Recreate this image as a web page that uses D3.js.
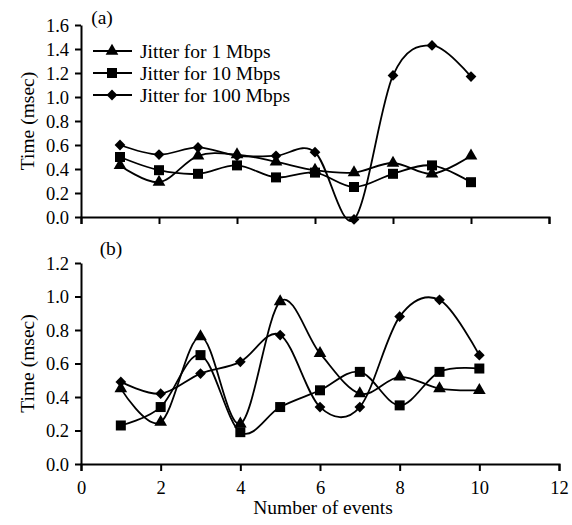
<!DOCTYPE html>
<html>
<head>
<meta charset="utf-8">
<script src="https://cdn.jsdelivr.net/npm/d3@7"></script>
<style>
  body { margin: 0; background: #fff; }
  svg { display: block; font-family: "Liberation Serif", "DejaVu Serif", serif; }
</style>
</head>
<body>
<svg id="viz" width="572" height="525"></svg>
<script>
// data
const events = [1, 2, 3, 4, 5, 6, 7, 8, 9, 10];
const seriesNames = ["Jitter for 1 Mbps", "Jitter for 10 Mbps", "Jitter for 100 Mbps"];

// panel (a)
const a1Mbps = [0.43, 0.29, 0.51, 0.52, 0.46, 0.39, 0.37, 0.45, 0.36, 0.51];
const a10Mbps = [0.50, 0.39, 0.36, 0.43, 0.33, 0.37, 0.25, 0.36, 0.43, 0.29];
const a100Mbps = [0.60, 0.52, 0.58, 0.51, 0.51, 0.54, -0.02, 1.18, 1.43, 1.17];

// panel (b)
const b1Mbps = [0.45, 0.25, 0.76, 0.24, 0.97, 0.66, 0.42, 0.52, 0.45, 0.44];
const b10Mbps = [0.23, 0.34, 0.65, 0.19, 0.34, 0.44, 0.55, 0.35, 0.55, 0.57];
const b100Mbps = [0.49, 0.42, 0.54, 0.61, 0.77, 0.34, 0.34, 0.88, 0.98, 0.65];

const xTicks = [0, 2, 4, 6, 8, 10, 12];
const yTicksA = [0, 0.2, 0.4, 0.6, 0.8, 1.0, 1.2, 1.4, 1.6];
const yTicksB = [0, 0.2, 0.4, 0.6, 0.8, 1.0, 1.2];

const svg = d3.select("#viz");
const FONT = 19.5;
const TICK_FONT = 18.5;

// triangle, square, diamond (square turned 45deg, like excel's)
const symbols = [d3.symbolTriangle, d3.symbolSquare, d3.symbolSquare];
const symbolSizes = [70, 100, 58];
const symbolRot = [0, 0, 45];

const drawPanel = (cfg) => {
    const x = d3.scaleLinear().domain([0, 12]).range([cfg.left, cfg.right]);
    const y = d3.scaleLinear().domain([0, cfg.yMax]).range([cfg.bottom, cfg.top]);

    const g = svg.append("g");

    // axes
    const xAxis = g.append("g")
        .attr("transform", `translate(0,${cfg.bottom})`)
        .call(d3.axisBottom(x).tickValues(xTicks).tickSize(7).tickSizeOuter(7)
            .tickFormat(cfg.xLabels ? d3.format("d") : ""));
    const yAxis = g.append("g")
        .attr("transform", `translate(${cfg.left},0)`)
        .call(d3.axisLeft(y).tickValues(cfg.yTicks).tickSize(6).tickSizeOuter(0)
            .tickFormat(d3.format(".1f")));

    [xAxis, yAxis].forEach(ax => {
        ax.select(".domain").attr("stroke", "#000").attr("stroke-width", 2);
        ax.selectAll(".tick line").attr("stroke", "#000").attr("stroke-width", 2);
        ax.selectAll("text").attr("fill", "#000").attr("font-size", TICK_FONT)
            .attr("font-family", "Liberation Serif");
    });
    xAxis.selectAll("text").attr("dy", "1.1em");
    yAxis.selectAll("text").attr("x", -12).attr("dy", "0.35em");

    // y axis title
    g.append("text")
        .attr("transform", `translate(27,${(cfg.top + cfg.bottom) / 2}) rotate(-90)`)
        .attr("text-anchor", "middle")
        .attr("dy", "0.35em")
        .attr("font-size", FONT)
        .text("Time (msec)");

    // panel tag
    g.append("text")
        .attr("x", cfg.tagX)
        .attr("y", cfg.tagY)
        .attr("text-anchor", "middle")
        .attr("dy", "0.35em")
        .attr("font-size", FONT)
        .text(cfg.tag);

    const line = d3.line()
        .x((d, i) => x(events[i]))
        .y(d => y(d))
        .curve(d3.curveCatmullRom.alpha(0));

    cfg.series.forEach((vals, k) => {
        g.append("path")
            .attr("d", line(vals))
            .attr("fill", "none")
            .attr("stroke", "#000")
            .attr("stroke-width", 1.8);
        g.selectAll(null)
            .data(vals)
            .join("path")
            .attr("transform", (d, i) => `translate(${x(events[i])},${y(d)}) rotate(${symbolRot[k]})`)
            .attr("d", d3.symbol(symbols[k], symbolSizes[k]))
            .attr("fill", "#000");
    });
};

drawPanel({
    left: 81, right: 549, top: 25, bottom: 217, yMax: 1.6,
    yTicks: yTicksA, xLabels: false,
    tag: "(a)", tagX: 102, tagY: 17,
    series: [a1Mbps, a10Mbps, a100Mbps]
});

drawPanel({
    left: 81, right: 559, top: 263, bottom: 464, yMax: 1.2,
    yTicks: yTicksB, xLabels: true,
    tag: "(b)", tagX: 111, tagY: 248,
    series: [b1Mbps, b10Mbps, b100Mbps]
});

// x axis title
svg.append("text")
    .attr("x", 323)
    .attr("y", 514)
    .attr("text-anchor", "middle")
    .attr("font-size", FONT)
    .text("Number of events");

// legend in panel (a)
const legend = svg.append("g");
seriesNames.forEach((name, k) => {
    const ly = 51 + k * 22;
    legend.append("line")
        .attr("x1", 93).attr("x2", 132)
        .attr("y1", ly).attr("y2", ly)
        .attr("stroke", "#000").attr("stroke-width", 1.8);
    legend.append("path")
        .attr("transform", `translate(112,${ly}) rotate(${symbolRot[k]})`)
        .attr("d", d3.symbol(symbols[k], symbolSizes[k]))
        .attr("fill", "#000");
    legend.append("text")
        .attr("x", 140)
        .attr("y", ly)
        .attr("dy", "0.35em")
        .attr("font-size", FONT)
        .text(name);
});
</script>
</body>
</html>
